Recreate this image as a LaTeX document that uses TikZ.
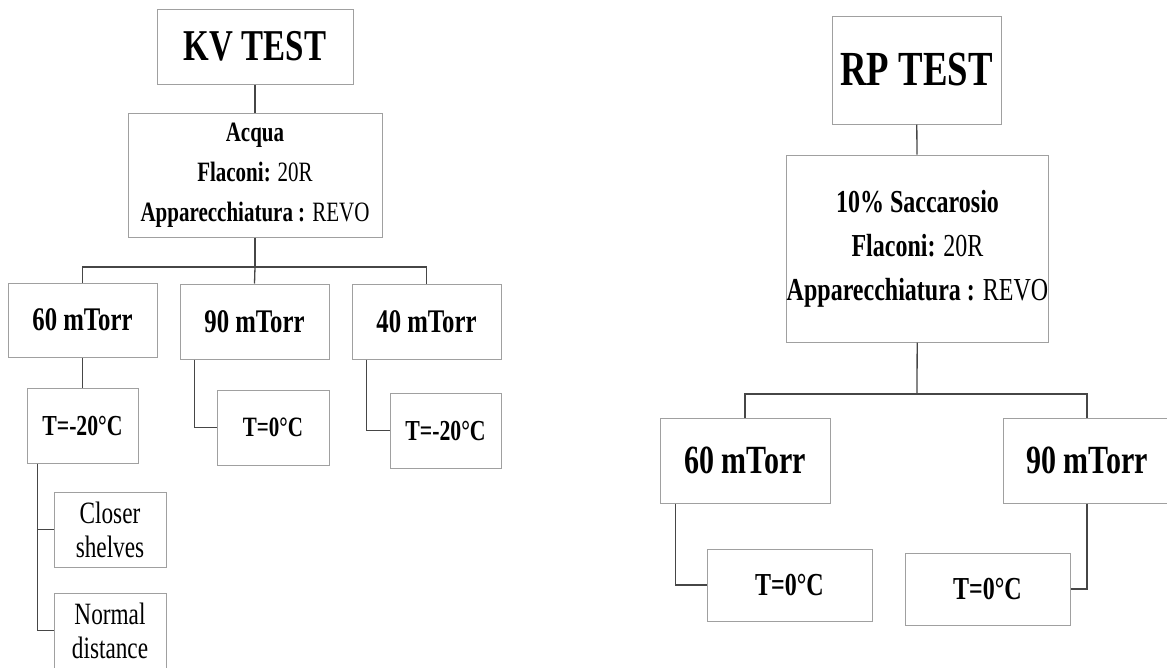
\documentclass[tikz,border=0pt]{standalone}
\usepackage{fontspec}
\setmainfont{Liberation Serif}[FakeStretch=0.75]
\usepackage{xcolor}

\definecolor{boxline}{RGB}{160,160,160}
\definecolor{linkline}{RGB}{70,70,70}

\begin{document}
\begin{tikzpicture}[
    x=1pt, y=-1pt,
    box/.style={draw=boxline, line width=1pt, inner sep=0pt, align=center},
    title/.style={box, font=\fontsize{#1}{#1}\selectfont\bfseries},
    pressure/.style={box, font=\fontsize{#1}{#1}\selectfont\bfseries},
    temp/.style={box, font=\fontsize{#1}{#1}\selectfont\bfseries},
    shelf/.style={box, font=\fontsize{31}{34}\selectfont},
    link/.style={draw=linkline, line width=1.3pt},
]
\useasboundingbox (0,0) rectangle (1167,667);

% KV test
\node[title=44, minimum width=196, minimum height=75] (kv) at (255, 46.5) {KV TEST};
\node[box, minimum width=254, minimum height=124, font=\fontsize{28}{40}\selectfont] (acqua) at (255, 175)
    {\textbf{Acqua}\\\textbf{Flaconi:} 20R\\\textbf{Apparecchiatura :} REVO};
\coordinate (kvbar) at (255, 267);
\node[pressure=33, minimum width=149, minimum height=74] (p60kv) at (82.5, 320) {60 mTorr};
\node[pressure=33, minimum width=149, minimum height=75] (p90kv) at (254.5, 321.5) {90 mTorr};
\node[pressure=33, minimum width=149, minimum height=75] (p40kv) at (426.5, 321.5) {40 mTorr};
\node[temp=29, minimum width=111, minimum height=75] (tm20kv) at (82.5, 425.5) {T=-20°C};
\node[temp=28, minimum width=112, minimum height=75] (t0kv) at (273, 427.5) {T=0°C};
\node[temp=29, minimum width=111, minimum height=75] (tm20b) at (445.5, 430.5) {T=-20°C};
\node[shelf, minimum width=112, minimum height=75] (closer) at (110, 529.5) {Closer\\shelves};
\node[shelf, minimum width=112, minimum height=75] (normal) at (110, 630.5) {Normal\\distance};

\draw[link] (kv) -- (acqua);
\draw[link] (acqua) -- (kvbar);
\draw[link] (kvbar) -| (p60kv.north);
\draw[link] (kvbar) -| (p40kv.north);
\draw[link] (kvbar) -- (p90kv.north);
\draw[link] (p60kv) -- (tm20kv);
\draw[link] ([xshift=15]p90kv.south west) |- (t0kv.west);
\draw[link] ([xshift=15]p40kv.south west) |- (tm20b.west);
\draw[link] ([xshift=11]tm20kv.south west) |- (closer.west);
\draw[link] ([xshift=11]tm20kv.south west) |- (normal.west);

% RP test
\node[title=49, minimum width=169, minimum height=108] (rp) at (916.5, 70) {RP TEST};
\node[box, minimum width=261, minimum height=187, font=\fontsize{32}{44}\selectfont] (sacc) at (917.5, 248.5)
    {\textbf{10\% Saccarosio}\\\textbf{Flaconi:} 20R\\\textbf{Apparecchiatura :} REVO};
\coordinate (rpbar) at (917, 394);
\node[pressure=40, minimum width=170, minimum height=85] (p60rp) at (745, 460.5) {60 mTorr};
\node[pressure=40, minimum width=168, minimum height=85] (p90rp) at (1087, 460.5) {90 mTorr};
\node[temp=32, minimum width=165, minimum height=72] (t0a) at (789.5, 585) {T=0°C};
\node[temp=32, minimum width=165, minimum height=72] (t0b) at (987.5, 589) {T=0°C};

\draw[link] (rp) -- (sacc);
\draw[link] (sacc) -- (rpbar);
\draw[link] (rpbar) -| (p60rp.north);
\draw[link] (rpbar) -| (p90rp.north);
\draw[link] ([xshift=16]p60rp.south west) |- (t0a.west);
\draw[link] (p90rp.south) |- (t0b.east);

\end{tikzpicture}
\end{document}
